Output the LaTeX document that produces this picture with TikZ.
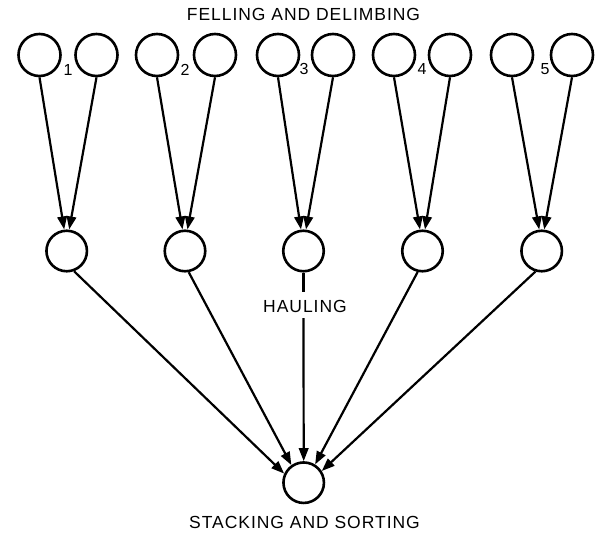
\documentclass[tikz,border=0pt]{standalone}
\usepackage{fontspec}
\setmainfont{Liberation Sans}
\usetikzlibrary{arrows.meta}
\newfontfamily\labfont[LetterSpace=5.5]{Liberation Sans}
\tikzset{
  topc/.style={circle,draw,line width=2.6pt,minimum size=42pt,inner sep=0pt},
  midc/.style={circle,draw,line width=2.6pt,minimum size=40.5pt,inner sep=0pt},
  conn/.style={line width=2.2pt,-{Triangle[length=13pt,width=9.5pt]}},
  plainconn/.style={line width=2.2pt},
  caption/.style={font=\labfont\fontsize{17.5}{20}\selectfont,inner sep=0pt},
  num/.style={font=\fontsize{16}{18}\selectfont,inner sep=0pt}
}
\begin{document}
\begin{tikzpicture}[x=1pt,y=-1pt]
\useasboundingbox (0,0) rectangle (603,535);
% top circles
\node[topc] (t1) at (39.5,55) {};
\node[topc] (t2) at (96.5,55) {};
\node[topc] (t3) at (157,55) {};
\node[topc] (t4) at (215,55) {};
\node[topc] (t5) at (278,55) {};
\node[topc] (t6) at (333,55) {};
\node[topc] (t7) at (394,55) {};
\node[topc] (t8) at (450,55) {};
\node[topc] (t9) at (512,55) {};
\node[topc] (t10) at (572,55) {};
% numbers
\node[num] (n1) at (68,70) {1};
\node[num] (n2) at (185,70) {2};
\node[num] (n3) at (304,69) {3};
\node[num] (n4) at (422,69) {4};
\node[num] (n5) at (545,69) {5};
% middle circles
\node[midc] (m1) at (66.7,251) {};
\node[midc] (m2) at (185,251) {};
\node[midc] (m3) at (303.5,251) {};
\node[midc] (m4) at (422.5,251) {};
\node[midc] (m5) at (541.7,251) {};
% bottom circle
\node[midc] (b) at (303.7,482.7) {};
% texts
\node[caption] (title) at (303.5,14) {FELLING AND DELIMBING};
\node[caption] (haul) at (305,306) {HAULING};
\node[caption] (stack) at (304.5,522.5) {STACKING AND SORTING};
% top arrows
\draw[conn] (t1.south) -- ([xshift=-2.5pt]m1.north);
\draw[conn] (t2.south) -- ([xshift=2.5pt]m1.north);
\draw[conn] (t3.south) -- ([xshift=-2.5pt]m2.north);
\draw[conn] (t4.south) -- ([xshift=2.5pt]m2.north);
\draw[conn] (t5.south) -- ([xshift=-2.5pt]m3.north);
\draw[conn] (t6.south) -- ([xshift=2.5pt]m3.north);
\draw[conn] (t7.south) -- ([xshift=-2.5pt]m4.north);
\draw[conn] (t8.south) -- ([xshift=2.5pt]m4.north);
\draw[conn] (t9.south) -- ([xshift=-2.5pt]m5.north);
\draw[conn] (t10.south) -- ([xshift=2.5pt]m5.north);
% to bottom
\draw[conn] (m1.-70) -- (b.155);
\draw[conn] (m2.-80) -- (b.125);
\draw[plainconn] (m3.south) -- ([xshift=-1.5pt,yshift=14pt]haul.center);
\draw[conn] ([xshift=-1.5pt,yshift=-12pt]haul.center) -- (b.north);
\draw[conn] (m4.-103) -- (b.58);
\draw[conn] (m5.-107) -- (b.33);
\end{tikzpicture}
\end{document}
